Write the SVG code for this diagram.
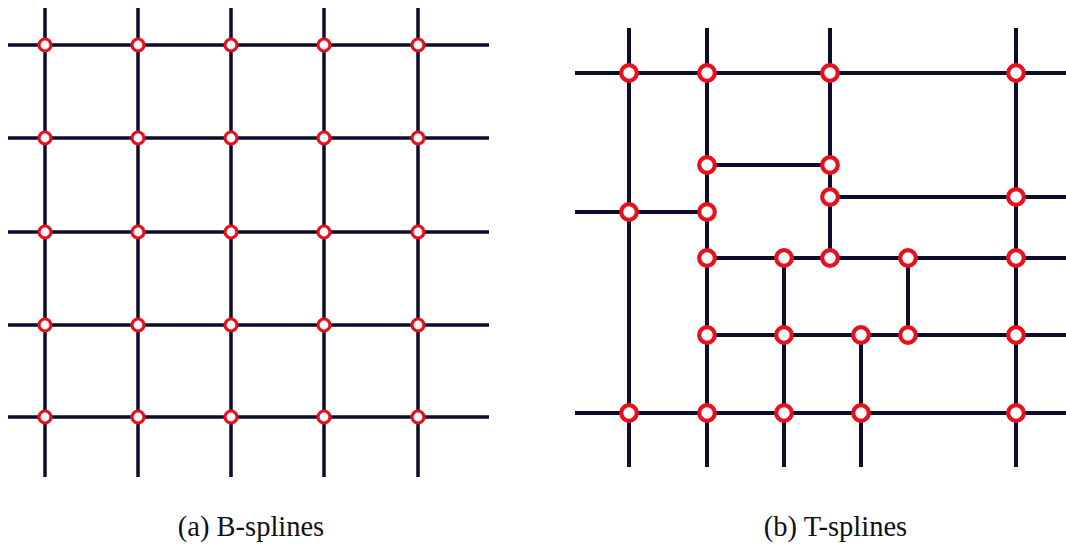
<svg xmlns="http://www.w3.org/2000/svg" width="1066" height="548" viewBox="0 0 1066 548">
<style>
.ln{stroke:#0c0c2c;stroke-width:3.5;fill:none;stroke-linecap:butt}
.lnr{stroke:#0c0c2c;stroke-width:4;fill:none}
.pa{fill:#ffffff;stroke:#e8101c;stroke-width:3.2}
.pb{fill:#ffffff;stroke:#e8101c;stroke-width:4.2}
.cap{font-family:"Liberation Serif","Times New Roman",serif;font-size:28.5px;fill:#111;text-anchor:middle}
</style>
<rect width="1066" height="548" fill="#ffffff"/>
<g id="connectors">
<g id="bspline-lines">
<path class="ln" d="M8 45H489M8 138H489M8 232H489M8 325H489M8 417H489"/>
<path class="ln" d="M45 8V477M138 8V477M231 8V477M324 8V477M418 8V477"/>
</g>
<g id="tspline-lines">
<path class="lnr" d="M575 73H1066M707 165H830M830 197H1066M575 212H707M707 258H1066M707 335H1066M575 413H1066"/>
<path class="lnr" d="M629 28V467M707 28V467M830 28V258M784 258V467M908 258V335M861 335V467M1016 28V467"/>
</g>
</g>
<g id="bspline-points">
<g id="a-r1"><circle class="pa" cx="45" cy="45" r="6"/><circle class="pa" cx="138" cy="45" r="6"/><circle class="pa" cx="231" cy="45" r="6"/><circle class="pa" cx="324" cy="45" r="6"/><circle class="pa" cx="418" cy="45" r="6"/></g>
<g id="a-r2"><circle class="pa" cx="45" cy="138" r="6"/><circle class="pa" cx="138" cy="138" r="6"/><circle class="pa" cx="231" cy="138" r="6"/><circle class="pa" cx="324" cy="138" r="6"/><circle class="pa" cx="418" cy="138" r="6"/></g>
<g id="a-r3"><circle class="pa" cx="45" cy="232" r="6"/><circle class="pa" cx="138" cy="232" r="6"/><circle class="pa" cx="231" cy="232" r="6"/><circle class="pa" cx="324" cy="232" r="6"/><circle class="pa" cx="418" cy="232" r="6"/></g>
<g id="a-r4"><circle class="pa" cx="45" cy="325" r="6"/><circle class="pa" cx="138" cy="325" r="6"/><circle class="pa" cx="231" cy="325" r="6"/><circle class="pa" cx="324" cy="325" r="6"/><circle class="pa" cx="418" cy="325" r="6"/></g>
<g id="a-r5"><circle class="pa" cx="45" cy="417" r="6"/><circle class="pa" cx="138" cy="417" r="6"/><circle class="pa" cx="231" cy="417" r="6"/><circle class="pa" cx="324" cy="417" r="6"/><circle class="pa" cx="418" cy="417" r="6"/></g>
</g>
<g id="tspline-points">
<circle class="pb" cx="629" cy="73" r="7.8"/><circle class="pb" cx="707" cy="73" r="7.8"/><circle class="pb" cx="830" cy="73" r="7.8"/><circle class="pb" cx="1016" cy="73" r="7.8"/>
<circle class="pb" cx="707" cy="165" r="7.8"/><circle class="pb" cx="830" cy="165" r="7.8"/>
<circle class="pb" cx="830" cy="197" r="7.8"/><circle class="pb" cx="1016" cy="197" r="7.8"/>
<circle class="pb" cx="629" cy="212" r="7.8"/><circle class="pb" cx="707" cy="212" r="7.8"/>
<circle class="pb" cx="707" cy="258" r="7.8"/><circle class="pb" cx="784" cy="258" r="7.8"/><circle class="pb" cx="830" cy="258" r="7.8"/><circle class="pb" cx="908" cy="258" r="7.8"/><circle class="pb" cx="1016" cy="258" r="7.8"/>
<circle class="pb" cx="707" cy="335" r="7.8"/><circle class="pb" cx="784" cy="335" r="7.8"/><circle class="pb" cx="861" cy="335" r="7.8"/><circle class="pb" cx="908" cy="335" r="7.8"/><circle class="pb" cx="1016" cy="335" r="7.8"/>
<circle class="pb" cx="629" cy="413" r="7.8"/><circle class="pb" cx="707" cy="413" r="7.8"/><circle class="pb" cx="784" cy="413" r="7.8"/><circle class="pb" cx="861" cy="413" r="7.8"/><circle class="pb" cx="1016" cy="413" r="7.8"/>
</g>
<g id="captions">
<text class="cap" x="251" y="536">(a) B-splines</text>
<text class="cap" x="835.5" y="536">(b) T-splines</text>
</g>
</svg>
